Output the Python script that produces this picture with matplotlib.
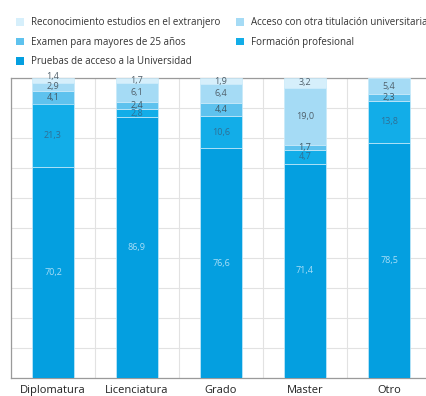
import matplotlib
matplotlib.use("Agg")
import matplotlib.pyplot as plt
import numpy as np

categories = ["Diplomatura", "Licenciatura", "Grado", "Master", "Otro"]
pruebas = [70.2, 86.9, 76.6, 71.4, 78.5]
formacion = [21.3, 2.8, 10.6, 4.7, 13.8]
examen = [4.1, 2.4, 4.4, 1.7, 2.3]
acceso = [2.9, 6.1, 6.4, 19.0, 5.4]
reconocimiento = [1.4, 1.7, 1.9, 3.2, 0.0]

series = [
    ("Pruebas de acceso a la Universidad", pruebas, "#049fe0", "#a9def7"),
    ("Formación profesional", formacion, "#12ade8", "#2f6f95"),
    ("Examen para mayores de 25 años", examen, "#5ec2ee", "#3f5866"),
    ("Acceso con otra titulación universitaria", acceso, "#a5dbf5", "#4f5f6a"),
    ("Reconocimiento estudios en el extranjero", reconocimiento, "#d6effb", "#4f5f6a"),
]

plt.rcParams['font.family'] = ['Open Sans', 'DejaVu Sans']

fig = plt.figure(figsize=(4.27, 3.96), dpi=100)
W, H = 427, 396
ax = fig.add_axes([11 / W, (H - 378) / H, 420 / W, 300 / H])

x = np.arange(len(categories))
bottom = np.zeros(len(categories))
handles = {}
for name, vals, col, tcol in series:
    vals = np.array(vals)
    b = ax.bar(x, vals, width=0.49, bottom=bottom, color=col,
               edgecolor="#c8eafa", linewidth=0.5, zorder=3)
    handles[name] = b
    for i, v in enumerate(vals):
        if v > 0:
            dy = 2.5 if v < 1.6 else 0
            ax.annotate(f"{v:.1f}".replace(".", ","), (x[i], bottom[i] + v / 2),
                        xytext=(0, dy), textcoords="offset points",
                        ha="center", va="center", fontsize=6.5, color=tcol, zorder=4)
    bottom += vals

ax.set_xlim(-0.5, 4.5)
ax.set_ylim(0, 100)
ax.set_yticks(np.arange(0, 101, 10))
ax.set_xticks(np.arange(-0.5, 4.6, 1), minor=False)
ax.set_xticklabels([])
ax.tick_params(axis="both", length=0)
ax.set_yticklabels([])
ax.grid(True, color="#e2e2e2", linewidth=0.8, zorder=0)
for i, c in enumerate(categories):
    ax.text(x[i], -2.4, c, ha="center", va="top", fontsize=8, color="#222222")
for s in ["left", "bottom", "top"]:
    ax.spines[s].set_color("#9a9a9a")
    ax.spines[s].set_linewidth(0.9)
ax.spines["right"].set_visible(False)

order = ["Reconocimiento estudios en el extranjero",
         "Examen para mayores de 25 años",
         "Pruebas de acceso a la Universidad",
         "Acceso con otra titulación universitaria",
         "Formación profesional"]
leg = fig.legend([handles[n] for n in order], order, ncol=2,
                 loc="upper left", bbox_to_anchor=(16 / W, 1 - 17 / H),
                 frameon=False, fontsize=7, handlelength=0.85, handleheight=0.85,
                 handletextpad=0.7, columnspacing=1.55, labelspacing=0.9,
                 borderaxespad=0, borderpad=0)
for t in leg.get_texts():
    t.set_color("#333333")
for p in leg.get_patches():
    p.set_edgecolor("none")

fig.savefig("out.png", dpi=100)
